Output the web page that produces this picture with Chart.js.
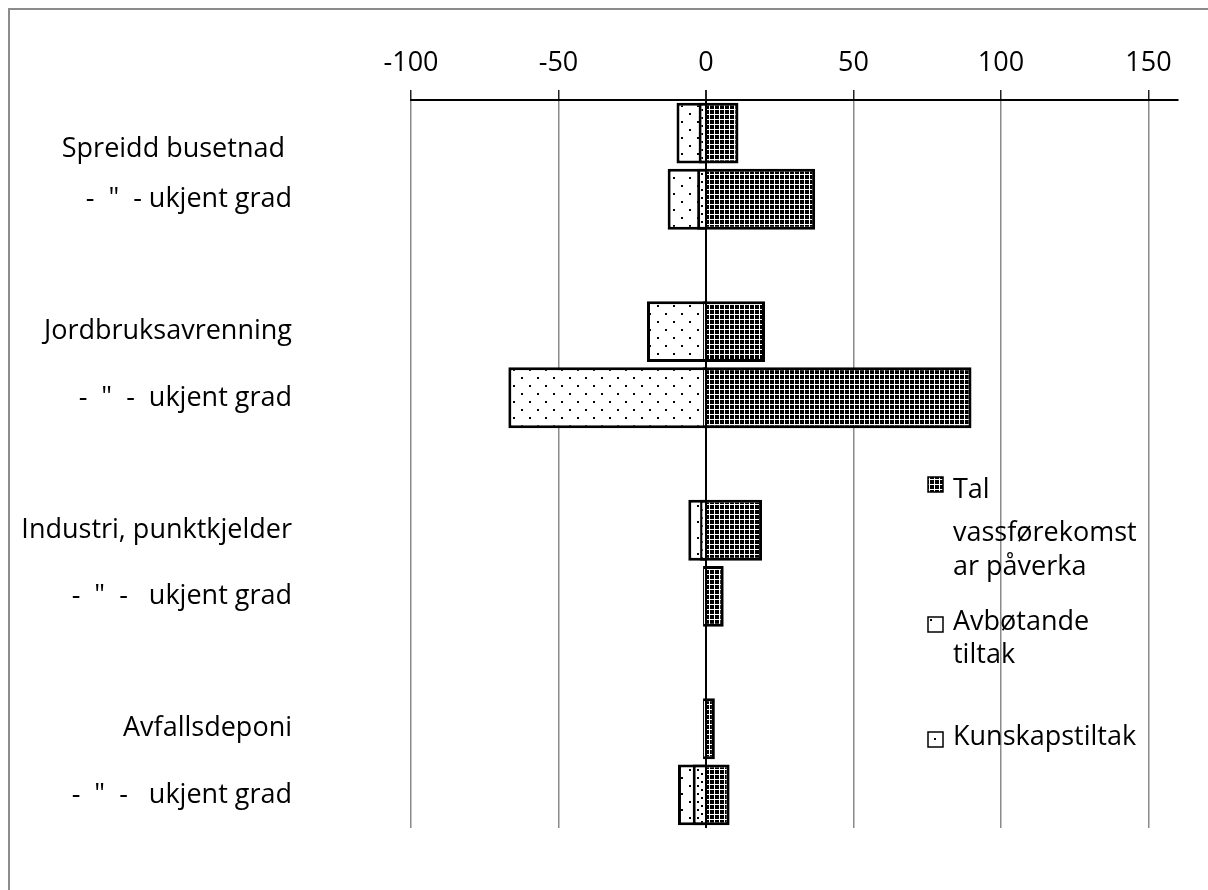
<!DOCTYPE html>
<html lang="nn">
<head>
    <meta charset="UTF-8">
    <title>Påverknad og tiltak</title>
    <script src="https://cdn.jsdelivr.net/npm/chart.js"></script>
    <style>
    body {
        margin: 0;
        background: #fff;
    }
    #frame {
        position: absolute;
        left: 8px;
        top: 8px;
        width: 1300px;
        height: 1000px;
        border-left: 2px solid #8c8c8c;
        border-top: 2px solid #8c8c8c;
    }
    #wrap {
        position: absolute;
        left: 0;
        top: 0;
        width: 1208px;
        height: 890px;
    }
    </style>
</head>
<body>
    <div id="frame"></div>
    <div id="wrap">
    <canvas id="chart"></canvas>
    </div>

    <script>
    const categories = [
        ["", "Spreidd busetnad "],
        '-  "  - ukjent grad',
        "",
        "Jordbruksavrenning",
        '-  "  -  ukjent grad',
        "",
        "Industri, punktkjelder",
        '-  "  -   ukjent grad',
        "",
        "Avfallsdeponi",
        '-  "  -   ukjent grad'
    ];
    const talValues = [11, 37, null, 20, 90, null, 19, 6, null, 3, 8];
    const avbotandeValues = [-10, -13, null, -20, -67, null, -6, -1, null, -1, -9.5];
    const kunskapValues = [-2.5, -3, null, -1, -1, null, -2, null, null, null, -4.5];
    const xTicks = [-100, -50, 0, 50, 100, 150];
    const seriesNames = [["Tal", "vassførekomst", "ar påverka"], ["Avbøtande", "tiltak"], ["Kunskapstiltak"]];

    const fontName = "Open Sans";
    const fontSize = 27;

    function makePattern(w, h, draw) {
        const c = document.createElement("canvas");
        c.width = w;
        c.height = h;
        draw(c.getContext("2d"));
        return document.getElementById("chart").getContext("2d").createPattern(c, "repeat");
    }

    // dark grid (black with white lines)
    const gridFill = makePattern(5, 5, g => {
        g.fillStyle = "#000";
        g.fillRect(0, 0, 5, 5);
        g.fillStyle = "#fff";
        g.fillRect(0, 4, 5, 1);
        g.fillRect(4, 0, 1, 5);
    });
    // sparse dots
    const sparseDots = makePattern(16, 16, g => {
        g.fillStyle = "#fff";
        g.fillRect(0, 0, 16, 16);
        g.fillStyle = "#000";
        g.fillRect(1, 1, 2, 2);
        g.fillRect(9, 9, 2, 2);
    });
    // denser dots
    const denseDots = makePattern(8, 8, g => {
        g.fillStyle = "#fff";
        g.fillRect(0, 0, 8, 8);
        g.fillStyle = "#000";
        g.fillRect(1, 1, 2, 2);
        g.fillRect(5, 5, 2, 2);
    });

    // legend with wrapped text, drawn over the plot like in the original
    const sideLegend = {
        id: "sideLegend",
        afterDraw(chart) {
            const ctx = chart.ctx;
            ctx.save();
            ctx.lineWidth = 1.5;
            ctx.strokeStyle = "#000";
            ctx.fillStyle = gridFill;
            ctx.fillRect(928, 477, 15, 15);
            ctx.strokeRect(928, 477, 15, 15);
            ctx.fillStyle = "#fff";
            ctx.fillRect(928, 617, 15, 15);
            ctx.strokeRect(928, 617, 15, 15);
            ctx.fillStyle = "#000";
            ctx.fillRect(930, 619, 2, 2);
            ctx.fillStyle = "#fff";
            ctx.fillRect(928, 732, 15, 15);
            ctx.strokeRect(928, 732, 15, 15);
            ctx.fillStyle = "#000";
            ctx.fillRect(934, 738, 2, 2);

            ctx.font = fontSize + "px " + fontName;
            ctx.fillStyle = "#000";
            ctx.textAlign = "left";
            ctx.textBaseline = "alphabetic";
            const baselines = [[498, 541, 575], [630, 663], [745]];
            seriesNames.forEach((lines, i) => {
                lines.forEach((t, j) => ctx.fillText(t, 953, baselines[i][j]));
            });
            ctx.restore();
        }
    };

    const ctx = document.getElementById("chart").getContext("2d");
    new Chart(ctx, {
        type: "bar",
        data: {
            labels: categories,
            datasets: [
            {
                label: "Tal vassførekomstar påverka",
                data: talValues,
                backgroundColor: gridFill,
                borderColor: "#000",
                borderWidth: 3,
                order: 1
            },
            {
                label: "Avbøtande tiltak",
                data: avbotandeValues,
                backgroundColor: sparseDots,
                borderColor: "#000",
                borderWidth: 3,
                order: 2
            },
            {
                label: "Kunskapstiltak",
                data: kunskapValues,
                backgroundColor: denseDots,
                borderColor: "#000",
                borderWidth: 3,
                order: 1
            }
            ]
        },
        options: {
            indexAxis: "y",
            responsive: true,
            maintainAspectRatio: false,
            animation: false,
            grouped: false,
            barPercentage: 0.92,
            categoryPercentage: 1,
            layout: { padding: { left: 0, right: 30, top: 0, bottom: 62 } },
            scales: {
            x: {
                position: "top",
                min: -100,
                max: 160,
                afterBuildTicks: axis => {
                    axis.ticks = xTicks.map(v => ({ value: v }));
                },
                afterFit: scale => { scale.height = 100; },
                ticks: {
                    color: "#000",
                    padding: 10,
                    font: { family: fontName, size: fontSize }
                },
                grid: {
                    color: c => c.tick && c.tick.value === 0 ? "#000" : "#8a8a8a",
                    lineWidth: c => c.tick && c.tick.value === 0 ? 2 : 1.5,
                    tickColor: "#222",
                    tickLength: 10
                },
                border: { color: "#000", width: 2 }
            },
            y: {
                afterFit: scale => {
                    scale.width = 411;
                    scale.paddingTop = 0;
                    scale.paddingBottom = 0;
                },
                grid: { display: false, drawTicks: false },
                border: { display: false },
                ticks: {
                    color: "#000",
                    padding: 119,
                    autoSkip: false,
                    font: { family: fontName, size: fontSize }
                }
            }
            },
            plugins: {
            legend: { display: false },
            tooltip: { enabled: false }
            }
        },
        plugins: [sideLegend]
    });
    </script>
</body>
</html>
